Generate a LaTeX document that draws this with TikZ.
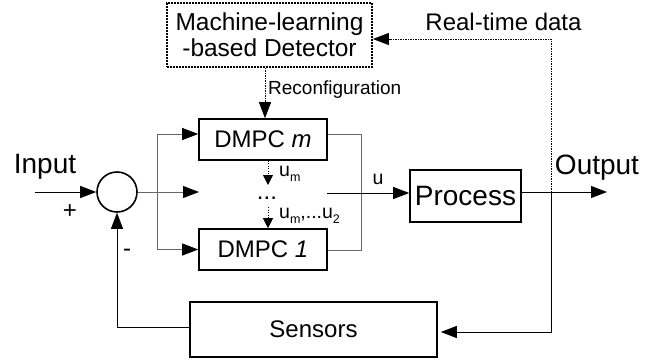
\documentclass[tikz,border=0pt]{standalone}
\usepackage{fontspec}
\setmainfont{Liberation Sans}
\usetikzlibrary{arrows.meta}
\newcommand{\mysub}[1]{\raisebox{-5pt}{\fontsize{12.5}{13}\selectfont #1}}
\begin{document}
\begin{tikzpicture}[x=1pt,y=-1pt,
  box/.style={draw, line width=1.6pt, inner sep=0pt, align=center},
  conn/.style={line width=0.9pt},
  arr/.style={-{Triangle[length=16pt,width=12pt,color=black]}},
  sarr/.style={-{Triangle[length=10pt,width=10pt,color=black]}},
  dotconn/.style={line width=0.9pt, dash pattern=on 1.1pt off 1.4pt},
  grayconn/.style={line width=0.9pt, draw=black!60},
  lbl/.style={inner sep=0pt}
]
\useasboundingbox (0,0) rectangle (662,364);

% blocks
\node[box, line width=1.8pt, dash pattern=on 1.6pt off 1.4pt, minimum width=205pt, minimum height=64pt,
      font=\fontsize{24.5}{26}\selectfont] (det) at (269.5,35) {Machine-learning\\-based Detector};
\node[box, minimum width=128pt, minimum height=41pt, font=\fontsize{24}{26}\selectfont] (dm) at (263,139.5) {DMPC \textit{m}};
\node[box, minimum width=128pt, minimum height=41pt, font=\fontsize{24}{26}\selectfont] (d1) at (263,249.5) {DMPC \textit{1}};
\node[box, minimum width=111pt, minimum height=52pt, font=\fontsize{28}{30}\selectfont] (proc) at (465.5,196) {Process};
\node[box, minimum width=247pt, minimum height=55pt, font=\fontsize{24}{26}\selectfont] (sens) at (313.5,329.5) {Sensors};
\node[draw, circle, line width=1.6pt, minimum size=40pt, inner sep=0pt] (sum) at (117,192) {};

% labels
\node[lbl, font=\fontsize{28}{30}\selectfont] (tin) at (45,167) {Input};
\node[lbl, font=\fontsize{28}{30}\selectfont] (tout) at (597,168) {Output};
\node[lbl, font=\fontsize{24}{26}\selectfont] (trt) at (503.5,22) {Real-time data};
\node[lbl, anchor=west, font=\fontsize{19}{21}\selectfont] (trec) at (268,90) {Reconfiguration};
\node[lbl, anchor=base, font=\fontsize{19.5}{21}\selectfont] (tu) at (378,184) {u};
\node[lbl, anchor=base west, font=\fontsize{19.5}{21}\selectfont] (tum) at (279,176) {u\mysub{m}};
\node[lbl, anchor=base west, font=\fontsize{19.5}{21}\selectfont] (tum2) at (279,218) {u\mysub{m},...u\mysub{2}};
\node[lbl, anchor=base, font=\fontsize{24}{26}\selectfont] (tdots) at (267,199) {...};
\node[lbl, font=\fontsize{24}{26}\selectfont] (tplus) at (70,212) {+};
\node[lbl, font=\fontsize{24}{26}\selectfont] (tminus) at (127,253) {-};

% coordinates
\coordinate (in) at (35,192);
\coordinate (split) at (157,192);
\coordinate (mid) at (199,192);
\coordinate (ym) at (0,134);
\coordinate (rt) at (361,134);
\coordinate (rb) at (361,250);
\coordinate (uo) at (327,193);
\coordinate (yo) at (0,192);
\coordinate (outend) at (607,192);
\coordinate (jn) at (551,192);
\coordinate (jt) at (551,39);
\coordinate (jb) at (551,332);
\coordinate (fb) at (117,327);
\coordinate (rc) at (265,0);
\coordinate (da) at (268,185);
\coordinate (db) at (268,207);

% connectors
\draw[conn,arr] (in) -- (sum.west);
\draw[grayconn] (sum.east) -- (split);
\draw[grayconn,arr] (split) -- (mid);
\draw[grayconn,arr] (split) |- (dm.west |- ym);
\draw[grayconn,arr] (split) |- (d1.west);
\draw[grayconn] (dm.east |- ym) -- (rt) -- (rb) -- (d1.east |- rb);
\draw[conn,arr] (uo) -- (proc.west |- uo);
\draw[conn,arr] (proc.east |- yo) -- (outend);
\draw[dotconn,arr] (jn) -- (jt) -- (det.east |- jt);
\draw[conn,arr] (jn) -- (jb) -- ([xshift=3pt]sens.east |- jb);
\draw[conn,arr] (sens.west |- fb) -- (fb) -- (sum.south);
\draw[dotconn,arr] (det.south -| rc) -- (dm.north -| rc);
\draw[dotconn,sarr] (dm.south -| da) -- (da);
\draw[dotconn,sarr] (db) -- (d1.north -| db);
\end{tikzpicture}
\end{document}
